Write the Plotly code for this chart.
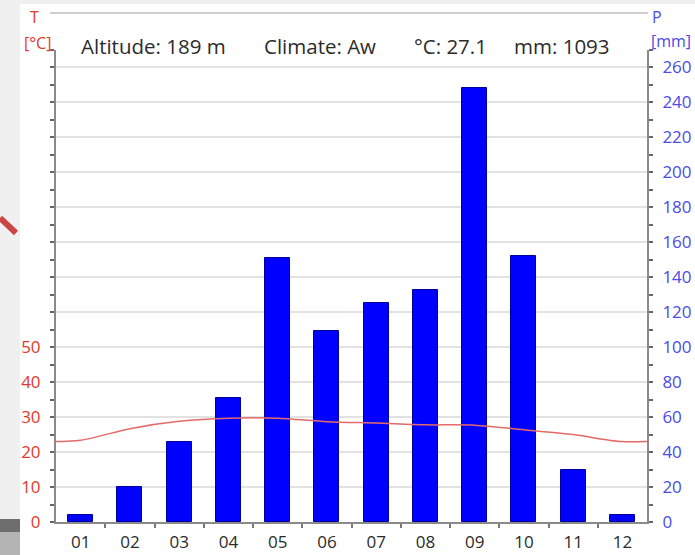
import plotly.graph_objects as go

# ---- data ----
months = ["01", "02", "03", "04", "05", "06", "07", "08", "09", "10", "11", "12"]
month_pos = [1, 2, 3, 4, 5, 6, 7, 8, 9, 10, 11, 12]
precip_mm = [4, 20, 46, 71, 151, 109, 125, 133, 248, 152, 30, 4]
temp_c = [23.4, 26.7, 28.8, 29.7, 29.7, 28.7, 28.3, 27.8, 27.7, 26.4, 25.0, 23.0]
t_ticks = [0, 10, 20, 30, 40, 50]
p_ticks = [0, 20, 40, 60, 80, 100, 120, 140, 160, 180, 200, 220, 240, 260]
altitude_m = 189
climate_class = "Aw"
mean_temp_c = 27.1
annual_mm = 1093

# ---- geometry helpers (pixel -> paper) ----
W, H = 695, 555
ML, MR, MT, MB = 56, 48, 50, 33
PW, PH = W - ML - MR, H - MT - MB


def px(x):
    return (x - ML) / PW


def py(y):
    return (H - MB - y) / PH


FONT = "Open Sans"

fig = go.Figure()

fig.add_trace(go.Bar(
    x=month_pos, y=precip_mm, width=0.51,
    marker=dict(color="#0000ff", line=dict(color="#0000a0", width=1)),
    yaxis="y", showlegend=False,
))

# temperature line, wrapped around the year so it reaches both plot edges
line_x = [month_pos[0] - 1] + month_pos + [month_pos[-1] + 1]
line_y = [temp_c[-1]] + temp_c + [temp_c[0]]
fig.add_trace(go.Scatter(
    x=line_x, y=line_y, mode="lines", yaxis="y2",
    line=dict(color="#e46a6a", width=1.5, shape="spline", smoothing=0.8),
    showlegend=False,
))

fig.update_layout(
    width=W, height=H, autosize=False,
    margin=dict(l=ML, r=MR, t=MT, b=MB, pad=0),
    paper_bgcolor="white", plot_bgcolor="white",
    font=dict(family=FONT, size=16, color="#333333"),
    bargap=0,
    xaxis=dict(
        range=[0.5, 12.5], tickmode="array", tickvals=month_pos, ticktext=months,
        showgrid=False, zeroline=False, showline=True, linecolor="#8a8a8a", linewidth=2,
        ticks="outside", ticklen=4, tickcolor="rgba(0,0,0,0)", automargin=False,
        tickfont=dict(family=FONT, size=17, color="#2b2b2b"),
        minor=dict(tickmode="array", tickvals=[m + 0.5 for m in month_pos[:-1]],
                   ticks="outside", ticklen=4, tickcolor="#777777", tickwidth=1.5, showgrid=False),
    ),
    yaxis=dict(
        side="right", range=[0, 270], tickmode="array", tickvals=p_ticks,
        showgrid=True, gridcolor="#e2e2e2", gridwidth=2, zeroline=False,
        showline=True, linecolor="#8a8a8a", linewidth=2, automargin=False,
        ticks="outside", ticklen=4, tickcolor="#666666", tickwidth=1.5,
        ticklabelstandoff=6,
        tickfont=dict(family=FONT, size=17, color="#4b4be8"),
        minor=dict(dtick=10, tick0=0, ticks="outside", ticklen=4, tickcolor="#666666",
                   tickwidth=1.5, showgrid=False),
    ),
    yaxis2=dict(
        overlaying="y", side="left", range=[0, 135], tickmode="array", tickvals=t_ticks,
        showgrid=False, zeroline=False, automargin=False,
        showline=True, linecolor="#8a8a8a", linewidth=2,
        ticks="outside", ticklen=4, tickcolor="#666666", tickwidth=1.5,
        ticklabelstandoff=6,
        tickfont=dict(family=FONT, size=17, color="#e2382a"),
        minor=dict(dtick=5, tick0=0, ticks="outside", ticklen=4, tickcolor="#666666",
                   tickwidth=1.5, showgrid=False),
    ),
)

# screenshot surroundings
shapes = [
    dict(type="rect", xref="paper", yref="paper", x0=px(0), x1=px(20), y0=py(H), y1=py(0),
         fillcolor="#f0f0f0", line=dict(width=0), layer="below"),
    dict(type="rect", xref="paper", yref="paper", x0=px(0), x1=px(W), y0=py(4), y1=py(0),
         fillcolor="#f0f0f0", line=dict(width=0), layer="below"),
    dict(type="rect", xref="paper", yref="paper", x0=px(0), x1=px(20), y0=py(532), y1=py(519),
         fillcolor="#6e6e6e", line=dict(width=0)),
    dict(type="rect", xref="paper", yref="paper", x0=px(0), x1=px(20), y0=py(H), y1=py(532),
         fillcolor="#b4b4b4", line=dict(width=0)),
    dict(type="line", xref="paper", yref="paper", x0=px(0), x1=px(16), y0=py(218), y1=py(233),
         line=dict(color="#cc4545", width=6)),
    dict(type="line", xref="paper", yref="paper", x0=px(50), x1=px(648), y0=py(13), y1=py(13),
         line=dict(color="#cfcfcf", width=2)),
]
fig.update_layout(shapes=shapes)

header_y = py(46)
annotations = [
    dict(text=f"Altitude: {altitude_m} m", x=px(79)),
    dict(text=f"Climate: {climate_class}", x=px(262)),
    dict(text=f"°C: {mean_temp_c}", x=px(412)),
    dict(text=f"mm: {annual_mm}", x=px(512)),
]
for a in annotations:
    fig.add_annotation(xref="paper", yref="paper", y=header_y, xanchor="left", yanchor="middle",
                       showarrow=False, font=dict(family=FONT, size=20.5, color="#2b2b2b"), **a)

axis_labels = [
    dict(text="T", x=px(34), y=py(17), color="#e2382a", xanchor="center"),
    dict(text="[°C]", x=px(37), y=py(43), color="#e2382a", xanchor="center"),
    dict(text="P", x=px(650), y=py(17), color="#4b4be8", xanchor="left"),
    dict(text="[mm]", x=px(649), y=py(41), color="#4b4be8", xanchor="left"),
]
for a in axis_labels:
    fig.add_annotation(xref="paper", yref="paper", x=a["x"], y=a["y"], text=a["text"],
                       xanchor=a["xanchor"], yanchor="middle", showarrow=False,
                       font=dict(family=FONT, size=16, color=a["color"]))

fig.write_html(
    "out.html",
    config={"displayModeBar": False},
    post_script="document.body.style.margin='0';document.body.style.overflow='hidden';",
)
